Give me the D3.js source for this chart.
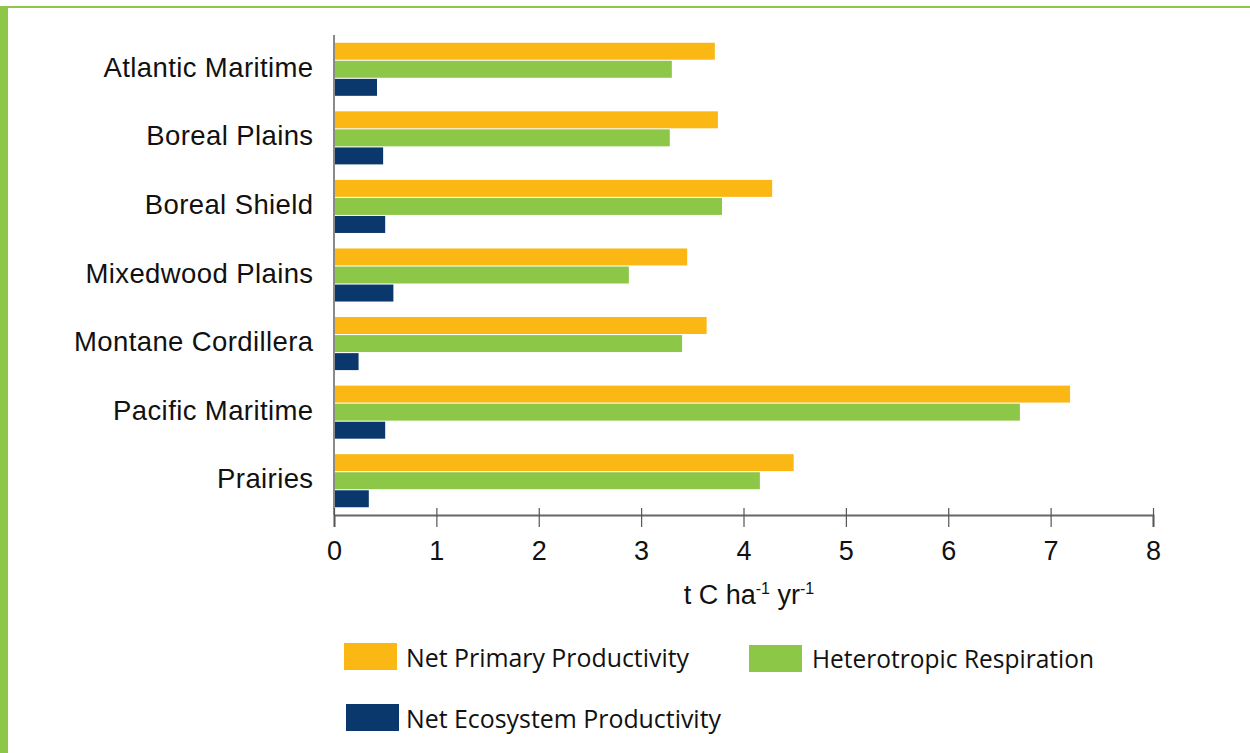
<!DOCTYPE html>
<html><head><meta charset="utf-8">
<script src="https://cdn.jsdelivr.net/npm/d3@7"></script>
<style>body{margin:0;background:#fff}svg{display:block}</style>
</head><body>
<svg id="c" width="1250" height="753"></svg>
<script>
const categories = ["Atlantic Maritime","Boreal Plains","Boreal Shield","Mixedwood Plains","Montane Cordillera","Pacific Maritime","Prairies"];
const seriesNames = ["Net Primary Productivity","Heterotropic Respiration","Net Ecosystem Productivity"];
const npp = [3.72, 3.75, 4.28, 3.45, 3.64, 7.19, 4.49];
const hr  = [3.30, 3.28, 3.79, 2.88, 3.40, 6.70, 4.16];
const nep = [0.42, 0.48, 0.50, 0.58, 0.24, 0.50, 0.34];
const xTicks = [0,1,2,3,4,5,6,7,8];
const colors = ["#FBB815","#8DC747","#0B386C"];

const FONT = "'Liberation Sans', Arial, Helvetica, sans-serif";
const svg = d3.select("#c");
const seriesVals = [npp, hr, nep];

// frame
svg.append("rect").attr("x",0).attr("y",6).attr("width",8).attr("height",747).attr("fill","#8DC747");
svg.append("rect").attr("x",8).attr("y",6).attr("width",1242).attr("height",2).attr("fill","#8DC747");

const x = d3.scaleLinear().domain([0,8]).range([334,1153]);
const y = d3.scaleBand().domain(categories).range([35,515]).paddingInner(0.226).paddingOuter(0.113);
const ySub = d3.scaleBand().domain(seriesNames).range([0,y.bandwidth()]).paddingInner(0.06);

const g = svg.append("g");
categories.forEach((c,i)=>{
  seriesNames.forEach((s,j)=>{
    g.append("rect")
      .attr("x", x(0))
      .attr("y", y(c)+ySub(s))
      .attr("width", x(seriesVals[j][i]) - x(0))
      .attr("height", ySub.bandwidth())
      .attr("fill", colors[j]);
  });
});

// y axis line
svg.append("line").attr("x1",x(0)).attr("x2",x(0)).attr("y1",35).attr("y2",515)
  .attr("stroke","#8a8a8a").attr("stroke-width",2);

// y labels
svg.append("g").selectAll("text").data(categories).join("text")
  .attr("x",313.5).attr("y",d=>y(d)+y.bandwidth()/2+7.5)
  .attr("text-anchor","end")
  .style("font-family",FONT).style("font-size","27.5px").style("letter-spacing","0.4px")
  .attr("fill","#111").text(d=>d);

// x axis
const xa = svg.append("g").attr("transform","translate(0,515)")
  .call(d3.axisBottom(x).tickValues(xTicks).tickSize(12).tickPadding(10).tickFormat(d3.format("d")));
xa.select(".domain").attr("stroke","#666").attr("stroke-width",2);
xa.selectAll(".tick line").attr("stroke","#555").attr("stroke-width",1.2).attr("y1",-7);
xa.selectAll(".tick text").attr("dy",null).attr("y",44.5)
  .style("font-family",FONT).style("font-size","27px").attr("fill","#111");

// x axis title
const t = svg.append("text").attr("x",749).attr("y",604).attr("text-anchor","middle")
  .style("font-family",FONT).style("font-size","27px").attr("fill","#111");
t.append("tspan").text("t C ha");
t.append("tspan").style("font-size","16px").attr("dy",-10).text("-1");
t.append("tspan").attr("dy",10).text(" yr");
t.append("tspan").style("font-size","16px").attr("dy",-10).text("-1");

// legend
const legend = [
  {name:seriesNames[0], color:colors[0], sx:344, sy:643, tx:406, ty:657, w:283},
  {name:seriesNames[1], color:colors[1], sx:749, sy:645, tx:812, ty:658, w:282},
  {name:seriesNames[2], color:colors[2], sx:346, sy:704, tx:406, ty:718, w:315}
];
const lg = svg.append("g");
legend.forEach(l=>{
  lg.append("rect").attr("x",l.sx).attr("y",l.sy).attr("width",53).attr("height",27).attr("fill",l.color);
  lg.append("text").attr("x",l.tx).attr("y",l.ty).attr("dominant-baseline","central")
    .style("font-family","'Open Sans', sans-serif").style("font-size","26px").attr("fill","#111")
    .attr("textLength",l.w).attr("lengthAdjust","spacingAndGlyphs").text(l.name);
});
</script>
</body></html>
